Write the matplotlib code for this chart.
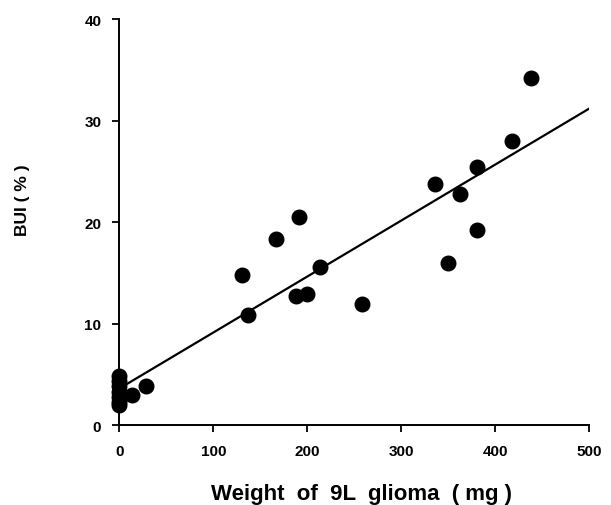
import matplotlib.pyplot as plt
import numpy as np

plt.rcParams['font.family'] = ['Liberation Sans', 'DejaVu Sans']

# tumour weight (mg) and BUI (%)
weight = [0, 0, 0, 0, 0, 0, 0, 13, 28,
          131, 137, 167, 188, 191, 200, 214, 258,
          336, 350, 362, 380, 381, 418, 438]
bui = [4.8, 4.3, 3.8, 3.3, 2.8, 2.3, 2.0, 3.0, 3.8,
       14.8, 10.8, 18.3, 12.7, 20.5, 12.9, 15.6, 11.9,
       23.8, 16.0, 22.8, 19.2, 25.4, 28.0, 34.2]

# regression line
intercept = 3.6
slope = 0.0552
x_ticks = [0, 100, 200, 300, 400, 500]
y_ticks = [0, 10, 20, 30, 40]

fig = plt.figure(figsize=(6.11, 5.06), dpi=100)
ax = fig.add_axes([0.1953, 0.158, 0.7692, 0.802])

xl = np.array([0, 500])
ax.plot(xl, intercept + slope * xl, color='black', linewidth=1.6, zorder=2)
ax.scatter(weight, bui, s=110, color='black', zorder=3, clip_on=False)

ax.set_xlim(0, 500)
ax.set_ylim(0, 40)
ax.set_xticks(x_ticks)
ax.set_yticks(y_ticks)
for side in ['top', 'right']:
    ax.spines[side].set_visible(False)
for side in ['left', 'bottom']:
    ax.spines[side].set_linewidth(1.4)
ax.tick_params(direction='out', length=5, width=1.3, labelsize=11)
ax.tick_params(axis='x', pad=9)
ax.tick_params(axis='y', pad=8)
for lab in ax.get_xticklabels() + ax.get_yticklabels():
    lab.set_fontweight('bold')

# axis titles placed by hand, they sit off-centre in the original
fig.text(361.5 / 611, 1 - 500 / 506, 'Weight  of  9L  glioma  ( mg )',
         fontsize=16, fontweight='bold', ha='center', va='baseline')
fig.text(23 / 611, 1 - 200 / 506, 'BUI ( % )', fontsize=12.5, fontweight='bold',
         rotation=90, ha='center', va='center')

fig.savefig('out.png', dpi=100)
